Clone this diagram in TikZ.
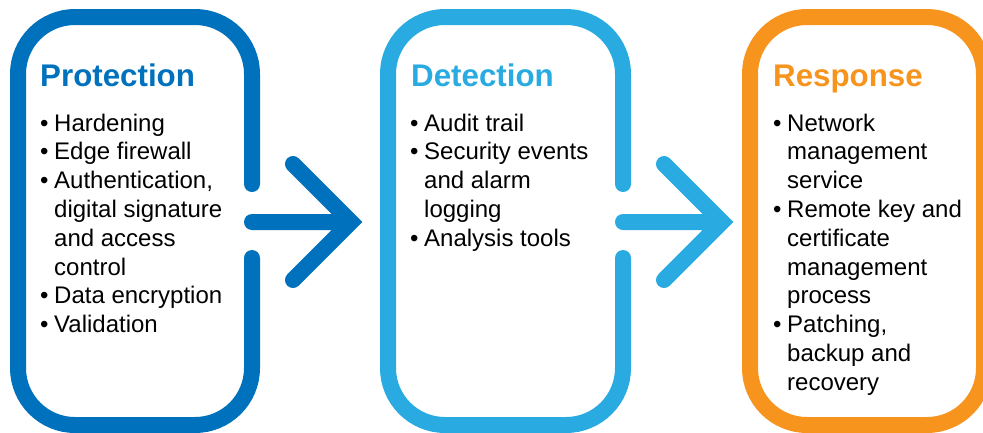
\documentclass[tikz,border=0pt]{standalone}
\usepackage{fontspec}
\setmainfont{Liberation Sans}
\usepackage{tikz}
\usetikzlibrary{positioning}
\definecolor{protblue}{HTML}{0071BC}
\definecolor{detblue}{HTML}{29ABE2}
\definecolor{resporange}{HTML}{F7941E}
\newcommand{\bul}{\makebox[14pt][l]{•}}
\newcommand{\ind}{\hspace*{14pt}}

\begin{document}
\begin{tikzpicture}[x=1pt,y=-1pt]
\tikzstyle{frame}=[line width=16pt,line cap=round,rounded corners=57pt]
\tikzstyle{flow}=[line width=16pt,line cap=round,line join=miter]
\tikzstyle{title}=[anchor=base west,inner sep=0pt,font=\fontsize{31.3}{36}\selectfont\bfseries]
\tikzstyle{items}=[anchor=base west,inner sep=0pt,align=left,font=\fontsize{24}{28.8}\selectfont]
\useasboundingbox (0,0) rectangle (983,432);

\draw[frame,protblue] (252,258) -- (252,425) -- (18,425) -- (18,17) -- (252,17) -- (252,184);
\draw[frame,detblue] (623,258) -- (623,425) -- (388,425) -- (388,17) -- (623,17) -- (623,184);
\draw[frame,resporange] (984,425) -- (750,425) -- (750,17) -- (984,17) -- cycle;

\coordinate (prot-out) at (252,222);
\coordinate (det-in) at (351,222);
\coordinate (det-out) at (623,222);
\coordinate (resp-in) at (722,222);
\draw[flow,protblue] (prot-out) -- (det-in) ++(-58,-58) -- (det-in) -- ++(-58,58);
\draw[flow,detblue] (det-out) -- (resp-in) ++(-58,-58) -- (resp-in) -- ++(-58,58);

% lists are placed by the baseline of their last line
\node[title,protblue] (prot-title) at (40,86) {Protection};
\node[items] (prot-list) at (40,332.6) {\bul Hardening\\
\bul Edge firewall\\
\bul Authentication,\\
\ind digital signature\\
\ind and access\\
\ind control\\
\bul Data encryption\\
\bul Validation};

\node[title,detblue] (det-title) at (411,86) {Detection};
\node[items] (det-list) at (410,246.2) {\bul Audit trail\\
\bul Security events\\
\ind and alarm\\
\ind logging\\
\bul Analysis tools};

\node[title,resporange] (resp-title) at (773,86) {Response};
\node[items] (resp-list) at (773,390.2) {\bul Network\\
\ind management\\
\ind service\\
\bul Remote key and\\
\ind certificate\\
\ind management\\
\ind process\\
\bul Patching,\\
\ind backup and\\
\ind recovery};
\end{tikzpicture}
\end{document}
